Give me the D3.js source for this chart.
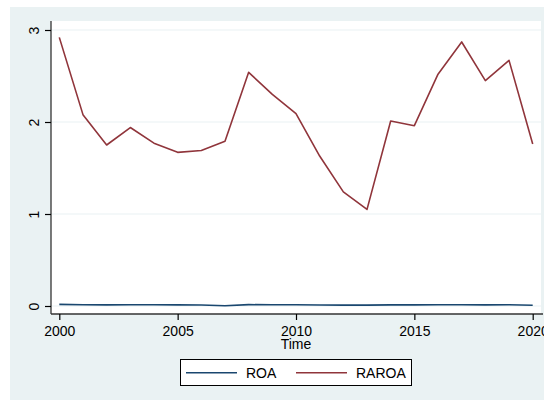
<!DOCTYPE html>
<html>
<head>
<meta charset="utf-8">
<script src="https://cdn.jsdelivr.net/npm/d3@7"></script>
<style>
  body { margin: 0; background: #fff; }
  svg { display: block; font-family: "Liberation Sans", Arial, sans-serif; }
</style>
</head>
<body>
<div id="chart"></div>
<script>
var years = [2000, 2001, 2002, 2003, 2004, 2005, 2006, 2007, 2008, 2009, 2010,
             2011, 2012, 2013, 2014, 2015, 2016, 2017, 2018, 2019, 2020];
var roa = [0.018, 0.014, 0.012, 0.013, 0.013, 0.012, 0.011, 0.003, 0.015, 0.013, 0.013,
           0.011, 0.009, 0.009, 0.012, 0.012, 0.014, 0.014, 0.012, 0.013, 0.008];
var raroa = [2.92, 2.08, 1.75, 1.94, 1.77, 1.67, 1.69, 1.79, 2.54, 2.30, 2.09,
             1.63, 1.24, 1.05, 2.01, 1.96, 2.52, 2.87, 2.45, 2.67, 1.76];
var xTicks = [2000, 2005, 2010, 2015, 2020];
var yTicks = [0, 1, 2, 3];
var seriesNames = ["ROA", "RAROA"];
var seriesColors = ["#1a476f", "#90353b"];

var width = 544, height = 401;
var svg = d3.select("#chart").append("svg")
    .attr("width", width)
    .attr("height", height);

// graph region
svg.append("rect")
    .attr("x", 10).attr("y", 7)
    .attr("width", width - 10).attr("height", 393)
    .attr("fill", "#eaf2f3");

// plot region
var plot = {left: 51, right: 541, top: 21, bottom: 314};
svg.append("rect")
    .attr("x", plot.left).attr("y", plot.top)
    .attr("width", plot.right - plot.left)
    .attr("height", plot.bottom - plot.top)
    .attr("fill", "#fff");

var x = d3.scaleLinear().domain([2000, 2020]).range([59.3, 532.7]);
var y = d3.scaleLinear().domain([0, 3]).range([306, 30]);

// grid lines
svg.append("g").selectAll("line")
    .data(yTicks).enter().append("line")
    .attr("x1", plot.left).attr("x2", plot.right)
    .attr("y1", function(d) { return y(d); })
    .attr("y2", function(d) { return y(d); })
    .attr("stroke", "#eaf2f3")
    .attr("stroke-width", 1.2);

// y axis
var yAxis = svg.append("g")
    .attr("transform", "translate(" + plot.left + ",0)")
    .call(d3.axisLeft(y).tickValues(yTicks).tickSize(6).tickSizeOuter(0).tickFormat(d3.format("d")));
yAxis.select(".domain").attr("d", "M0," + plot.top + "V" + plot.bottom)
    .attr("stroke", "#333").attr("stroke-width", 1.3);
yAxis.selectAll(".tick line").attr("stroke", "#000").attr("stroke-width", 1.2);
yAxis.selectAll(".tick text")
    .attr("x", null).attr("dy", null)
    .attr("transform", "translate(-12,0) rotate(-90)")
    .attr("text-anchor", "middle")
    .attr("font-size", 14)
    .attr("fill", "#000");

// x axis
var xAxis = svg.append("g")
    .attr("transform", "translate(0," + plot.bottom + ")")
    .call(d3.axisBottom(x).tickValues(xTicks).tickSize(6).tickSizeOuter(0).tickFormat(d3.format("d")));
xAxis.select(".domain").attr("d", "M" + plot.left + ",0H" + (plot.right + 2))
    .attr("stroke", "#333").attr("stroke-width", 1.3);
xAxis.selectAll(".tick line").attr("stroke", "#000").attr("stroke-width", 1.2);
xAxis.selectAll(".tick text")
    .attr("y", 22).attr("dy", null)
    .attr("font-size", 14)
    .attr("fill", "#000");

svg.append("text")
    .attr("x", x(2010)).attr("y", 349)
    .attr("text-anchor", "middle")
    .attr("font-size", 14)
    .text("Time");

// lines
var line = d3.line()
    .x(function(d) { return x(d[0]); })
    .y(function(d) { return y(d[1]); });

[roa, raroa].forEach(function(vals, i) {
    svg.append("path")
        .datum(years.map(function(yr, j) { return [yr, vals[j]]; }))
        .attr("d", line)
        .attr("fill", "none")
        .attr("stroke", seriesColors[i])
        .attr("stroke-width", 1.6)
        .attr("stroke-linejoin", "round");
});

// legend
var legend = svg.append("g");
legend.append("rect")
    .attr("x", 180.5).attr("y", 359.5)
    .attr("width", 231).attr("height", 26)
    .attr("fill", "#fff")
    .attr("stroke", "#000")
    .attr("stroke-width", 1);
var legendX = [186, 296];
seriesNames.forEach(function(name, i) {
    legend.append("line")
        .attr("x1", legendX[i]).attr("x2", legendX[i] + 51)
        .attr("y1", 372.7).attr("y2", 372.7)
        .attr("stroke", seriesColors[i])
        .attr("stroke-width", 1.6);
    legend.append("text")
        .attr("x", legendX[i] + 60).attr("y", 378)
        .attr("font-size", 14)
        .text(name);
});
</script>
</body>
</html>
